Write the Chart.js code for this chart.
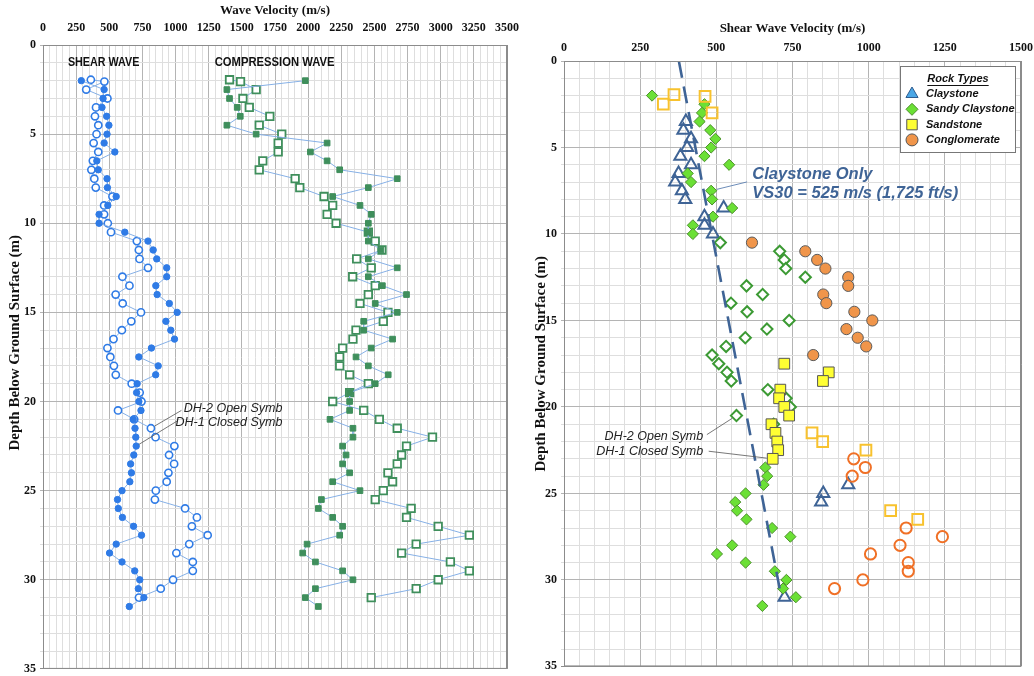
<!DOCTYPE html>
<html>
<head>
<meta charset="utf-8">
<script src="https://cdn.jsdelivr.net/npm/chart.js@4.4.1/dist/chart.umd.min.js"></script>
<style>
  html, body { margin: 0; padding: 0; background: #fff; }
  #wrap { position: relative; width: 1034px; height: 676px; overflow: hidden; }
  #left { position: absolute; left: 0; top: 0; }
  #right { position: absolute; left: 530px; top: 0; }
</style>
</head>
<body>
<div id="wrap">
  <canvas id="left" width="520" height="676"></canvas>
  <canvas id="right" width="504" height="676"></canvas>
</div>
<script>
// depths (m) of the readings, DH-1 and DH-2
const depthDH1 = [2.0, 2.5, 3.0, 3.5, 4.0, 4.5, 5.0, 5.5, 6.0, 6.5, 7.0, 7.5, 8.0, 8.5, 9.0, 9.5, 10.0, 10.5, 11.0, 11.5,
  12.0, 12.5, 13.0, 13.5, 14.0, 14.5, 15.0, 15.5, 16.0, 16.5, 17.0, 17.5, 18.0, 18.5, 19.0, 19.5, 20.0, 20.5, 21.0, 21.5,
  22.0, 22.5, 23.0, 23.5, 24.0, 24.5, 25.0, 25.5, 26.0, 26.5, 27.0, 27.5, 28.0, 28.5, 29.0, 29.5, 30.0, 30.5, 31.0, 31.5];
const depthDH2 = [1.95, 2.05, 2.5, 3.0, 3.5, 4.0, 4.5, 5.0, 5.5, 6.0, 6.5, 7.0, 7.5, 8.0, 8.5, 9.0, 9.5, 10.0, 10.5, 11.0,
  11.5, 12.0, 12.5, 13.0, 13.5, 14.0, 14.5, 15.0, 15.5, 16.0, 16.5, 17.0, 17.5, 18.0, 18.5, 19.0, 19.5, 20.0, 20.5, 21.0,
  21.5, 22.0, 22.5, 23.0, 23.5, 24.0, 24.5, 25.0, 25.5, 26.0, 26.5, 27.0, 27.5, 28.0, 28.5, 29.0, 29.5, 30.0, 30.5, 31.0];

// shear wave velocity (m/s)
const vsDH1 = [289, 461, 453, 445, 480, 497, 483, 461, 542, 406, 417, 483, 486, 552, 489, 423, 423, 617, 792, 831,
  858, 933, 933, 851, 861, 953, 1012, 927, 964, 992, 818, 723, 869, 850, 710, 706, 723, 739, 681, 694,
  700, 703, 685, 661, 667, 655, 596, 562, 568, 599, 683, 743, 552, 502, 596, 692, 730, 719, 761, 651];
const vsDH2 = [361, 463, 326, 486, 400, 392, 417, 404, 382, 417, 376, 365, 387, 398, 524, 461, 461, 489, 513, 708,
  723, 728, 792, 599, 652, 548, 601, 739, 666, 595, 532, 486, 508, 535, 549, 669, 729, 743, 566, 688,
  814, 849, 991, 951, 989, 946, 933, 851, 844, 1072, 1161, 1123, 1242, 1103, 1006, 1130, 1130, 981, 888, 724];

// compression wave velocity (m/s)
const vpDH1 = [1979, 1387, 1407, 1465, 1488, 1387, 1608, 2143, 2017, 2143, 2238, 2672, 2454, 2185, 2391, 2476, 2454, 2454, 2454, 2549,
  2454, 2672, 2454, 2560, 2742, 2506, 2672, 2419, 2419, 2637, 2476, 2361, 2454, 2604, 2506, 2313, 2313, 2313, 2165, 2338,
  2338, 2260, 2286, 2260, 2313, 2185, 2391, 2100, 2077, 2185, 2260, 2238, 1992, 1959, 2055, 2260, 2338, 2055, 1979, 2077];
const vpDH2 = [1407, 1490, 1608, 1508, 1556, 1711, 1631, 1801, 1774, 1774, 1658, 1631, 1902, 1937, 2120, 2185, 2143, 2211, 2454, 2506,
  2557, 2366, 2476, 2336, 2506, 2454, 2391, 2602, 2567, 2361, 2338, 2260, 2238, 2238, 2313, 2454, 2313, 2185, 2419, 2537,
  2672, 2938, 2742, 2705, 2672, 2602, 2637, 2567, 2506, 2777, 2742, 2981, 3216, 2815, 2705, 3073, 3216, 2981, 2815, 2476];

// rock type at each reading: C claystone, SC sandy claystone, SS sandstone, CG conglomerate
const rockDH1 = [
  'SC', 'SC', 'SC', 'SC', 'SC', 'SC', 'SC', 'SC', 'SC', 'SC', 'SC', 'SC', 'SC', 'SC', 'SC', 'SC', 'SC',
  'CG', 'CG', 'CG', 'CG', 'CG', 'CG', 'CG', 'CG', 'CG', 'CG', 'CG', 'CG', 'CG', 'CG',
  'SS', 'SS', 'SS', 'SS', 'SS', 'SS', 'SS', 'SS', 'SS', 'SS', 'SS', 'SS',
  'SC', 'SC', 'SC', 'SC', 'SC', 'SC', 'SC', 'SC', 'SC', 'SC', 'SC', 'SC', 'SC', 'SC', 'SC', 'SC', 'SC'];
const rockDH2 = [
  'SS', 'SS', 'SS', 'SS',
  'C', 'C', 'C', 'C', 'C', 'C', 'C', 'C', 'C', 'C', 'C', 'C', 'C', 'C',
  'SC', 'SC', 'SC', 'SC', 'SC', 'SC', 'SC', 'SC', 'SC', 'SC', 'SC', 'SC', 'SC', 'SC', 'SC', 'SC', 'SC', 'SC', 'SC', 'SC', 'SC', 'SC',
  'SS', 'SS', 'SS', 'CG', 'CG', 'CG', 'C', 'C', 'C', 'SS', 'SS',
  'CG', 'CG', 'CG', 'CG', 'CG', 'CG', 'CG', 'CG', 'C'];

// claystone-only trend line (Vs, depth)
const trendVs = [377, 710];
const trendDepth = [0, 30.7];

const xTicksLeft = { min: 0, max: 3500, minor: 50, major: 250 };
const xTicksRight = { min: 0, max: 1500, minor: 50, major: 250 };
const yTicks = { min: 0, max: 35, minor: 1, major: 5 };

const SERIF = '"Liberation Serif", "DejaVu Serif", serif';
const SANS = '"Liberation Sans", Arial, sans-serif';
const DEPTH_TITLE = 'Depth Below Ground Surface (m)';

const pts = (vs, ds) => vs.map((v, i) => ({ x: v, y: ds[i] }));
const byRock = (vs, ds, rocks, code) =>
  vs.map((v, i) => ({ x: v, y: ds[i], r: rocks[i] })).filter(p => p.r === code);

const gridColor = (major, max) => c => {
  const v = Math.round(c.tick.value);
  if (v === max) return '#8c8c8c';
  return v % major === 0 ? '#b4b4b4' : '#dedede';
};

function xAxis(t, title, height, titlePad, labelPad) {
  return {
    type: 'linear', position: 'top', min: t.min, max: t.max,
    afterFit: s => { s.height = height; s.paddingLeft = 0; s.paddingRight = 0; },
    ticks: {
      stepSize: t.minor, autoSkip: false, maxRotation: 0, padding: labelPad, color: '#111',
      font: { family: SERIF, weight: 'bold', size: 12 },
      callback: v => Math.round(v) % t.major === 0 ? v : ''
    },
    grid: { color: gridColor(t.major, t.max), lineWidth: 1, drawTicks: false },
    border: { color: '#8c8c8c' },
    title: { display: true, text: title, color: '#111', font: { family: SERIF, weight: 'bold', size: 13 },
      padding: { top: titlePad, bottom: 0 } }
  };
}

function yAxis(width, titlePad, showTitle) {
  return {
    type: 'linear', reverse: true, min: yTicks.min, max: yTicks.max,
    afterFit: s => { s.width = width; s.paddingTop = 0; s.paddingBottom = 0; },
    ticks: {
      stepSize: yTicks.minor, autoSkip: false, padding: 4, color: '#111',
      font: { family: SERIF, weight: 'bold', size: 12 },
      callback: v => Math.round(v) % yTicks.major === 0 ? v : ''
    },
    grid: { color: gridColor(yTicks.major, yTicks.max), lineWidth: 1, drawTicks: true, tickLength: 3 },
    border: { color: '#8c8c8c' },
    title: { display: showTitle, text: DEPTH_TITLE, color: '#111',
      font: { family: SERIF, weight: 'bold', size: 15 }, padding: { top: titlePad, bottom: 0 } }
  };
}

// text, leader lines and frame drawn in data units through the chart's scales
const notesPlugin = {
  id: 'notes',
  afterDatasetsDraw(chart, args, opts) {
    const { ctx, chartArea: a, scales } = chart;
    const X = v => scales.x.getPixelForValue(v);
    const Y = d => scales.y.getPixelForValue(d);
    ctx.save();
    ctx.strokeStyle = '#8c8c8c';
    ctx.lineWidth = 1;
    ctx.strokeRect(a.left + 0.5, a.top + 0.5, a.right - a.left - 1, a.bottom - a.top - 1);
    if (opts.sideTitle) {
      // left panel: depth title sits a little above the plot's middle
      ctx.save();
      ctx.translate(opts.sideTitle.x, Y(opts.sideTitle.depth));
      ctx.rotate(-Math.PI / 2);
      ctx.font = 'bold 15px ' + SERIF;
      ctx.fillStyle = '#111';
      ctx.textAlign = 'center';
      ctx.textBaseline = 'middle';
      ctx.fillText(DEPTH_TITLE, 0, 0);
      ctx.restore();
    }
    for (const l of opts.leaders || []) {
      const x1 = X(l.from[0]), y1 = Y(l.from[1]);
      let x2 = X(l.to[0]), y2 = Y(l.to[1]);
      const len = Math.hypot(x2 - x1, y2 - y1);
      x2 -= (x2 - x1) / len * (l.trim || 0);
      y2 -= (y2 - y1) / len * (l.trim || 0);
      ctx.beginPath();
      ctx.strokeStyle = l.color;
      ctx.lineWidth = l.width;
      ctx.moveTo(x1, y1);
      ctx.lineTo(x2, y2);
      ctx.stroke();
    }
    for (const t of opts.texts || []) {
      ctx.save();
      ctx.font = t.font;
      ctx.fillStyle = t.color;
      ctx.textAlign = t.align || 'left';
      ctx.textBaseline = 'middle';
      ctx.translate(X(t.at[0]), Y(t.at[1]));
      if (t.sx) ctx.scale(t.sx, 1);   // condensed caption lettering
      ctx.fillText(t.text, 0, 0);
      ctx.restore();
    }
    ctx.restore();
  }
};

// ---------- left: shear + compression profiles ----------
const LINE = '#86b0e6';
const BLUE = '#2f7be6';
const GREEN = '#3f8f5c';

new Chart(document.getElementById('left'), {
  type: 'scatter',
  data: {
    datasets: [
      { label: 'Vp DH-1', data: pts(vpDH1, depthDH1), showLine: true, borderColor: LINE, borderWidth: 1,
        pointStyle: 'rect', pointRadius: 4, pointBackgroundColor: GREEN, pointBorderColor: GREEN, pointBorderWidth: 1 },
      { label: 'Vp DH-2', data: pts(vpDH2, depthDH2), showLine: true, borderColor: LINE, borderWidth: 1,
        pointStyle: 'rect', pointRadius: 5.3, pointBackgroundColor: '#fff', pointBorderColor: GREEN, pointBorderWidth: 1.8 },
      { label: 'Vs DH-1', data: pts(vsDH1, depthDH1), showLine: true, borderColor: LINE, borderWidth: 1,
        pointStyle: 'circle', pointRadius: 3.2, pointBackgroundColor: BLUE, pointBorderColor: BLUE, pointBorderWidth: 1 },
      { label: 'Vs DH-2', data: pts(vsDH2, depthDH2), showLine: true, borderColor: LINE, borderWidth: 1,
        pointStyle: 'circle', pointRadius: 3.6, pointBackgroundColor: '#fff', pointBorderColor: BLUE, pointBorderWidth: 1.6 }
    ]
  },
  options: {
    responsive: false, animation: false,
    layout: { padding: { left: 0, right: 13, top: 0, bottom: 3 } },
    scales: { x: xAxis(xTicksLeft, 'Wave Velocity (m/s)', 45, 3, 10), y: yAxis(43, 6, false) },
    plugins: {
      legend: { display: false }, tooltip: { enabled: false },
      notes: {
        sideTitle: { x: 15, depth: 16.7 },
        texts: [
          { text: 'SHEAR WAVE', at: [188, 1.0], font: 'bold 12.5px ' + SANS, color: '#111', sx: 0.86 },
          { text: 'COMPRESSION WAVE', at: [1295, 1.0], font: 'bold 12.5px ' + SANS, color: '#111', sx: 0.9 },
          { text: 'DH-2 Open Symb', at: [1806, 20.4], align: 'right', font: 'italic 12.5px ' + SANS, color: '#222' },
          { text: 'DH-1 Closed Symb', at: [1806, 21.2], align: 'right', font: 'italic 12.5px ' + SANS, color: '#222' }
        ],
        leaders: [
          { from: [1044, 20.5], to: [814, 21.5], trim: 4, color: '#555', width: 0.8 },
          { from: [1011, 21.1], to: [703, 22.5], trim: 3, color: '#555', width: 0.8 }
        ]
      }
    }
  },
  plugins: [notesPlugin]
});

// ---------- right: shear wave velocity by rock type ----------
const rockStyles = {
  C:  { name: 'Claystone', style: 'triangle', r: 7, fill: '#4ba7e6', edge: '#2d5b8e',
        dh2: { fill: 'rgba(255,255,255,0)', edge: '#3f6496', w: 2 } },
  SC: { name: 'Sandy Claystone', style: 'rectRot', r: 5.6, fill: '#6be035', edge: '#4b8f2a',
        dh1: { fill: '#6be035', edge: '#4b8f2a', w: 1 }, dh2: { fill: '#fff', edge: '#3c9a34', w: 2 } },
  SS: { name: 'Sandstone', style: 'rect', r: 7.6, fill: '#ffff33', edge: '#555',
        dh1: { fill: '#ffff33', edge: '#555', w: 1 }, dh2: { fill: 'rgba(255,255,255,0)', edge: '#f8c22e', w: 2 } },
  CG: { name: 'Conglomerate', style: 'circle', r: 5.6, fill: '#f0954a', edge: '#555',
        dh1: { fill: '#f0954a', edge: '#5a5a5a', w: 1 }, dh2: { fill: 'rgba(255,255,255,0)', edge: '#f07026', w: 2 } }
};

function rockSet(code, hole) {
  const s = rockStyles[code];
  const h = s[hole];
  const data = hole === 'dh1' ? byRock(vsDH1, depthDH1, rockDH1, code) : byRock(vsDH2, depthDH2, rockDH2, code);
  return { label: s.name + ' ' + hole, data, showLine: false, pointStyle: s.style, pointRadius: s.r,
    pointBackgroundColor: h.fill, pointBorderColor: h.edge, pointBorderWidth: h.w };
}

const legendPlugin = {
  id: 'rockLegend',
  afterDraw(chart) {
    const { ctx, chartArea: a } = chart;
    const left = a.right - 121, top = a.top + 5, w = 115, h = 86;
    ctx.save();
    ctx.fillStyle = '#fff';
    ctx.fillRect(left, top, w, h);
    ctx.strokeStyle = '#777';
    ctx.lineWidth = 1;
    ctx.strokeRect(left + 0.5, top + 0.5, w, h);
    ctx.fillStyle = '#111';
    ctx.font = 'italic bold 11px ' + SANS;
    ctx.textAlign = 'center';
    ctx.textBaseline = 'middle';
    ctx.fillText('Rock Types', left + 58, top + 13);
    const tw = ctx.measureText('Rock Types').width;
    ctx.fillRect(left + 58 - tw / 2, top + 19, tw, 1);
    ctx.textAlign = 'left';
    ['C', 'SC', 'SS', 'CG'].forEach((code, i) => {
      const s = rockStyles[code];
      const y = top + 28 + i * 15.3;
      ctx.fillStyle = s.fill;
      ctx.strokeStyle = s.edge;
      ctx.lineWidth = 1;
      const r = code === 'SS' ? 7.4 : code === 'C' ? 7 : 6;
      Chart.helpers.drawPoint(ctx, { pointStyle: s.style, radius: r, rotation: 0, borderWidth: 1 }, left + 12, y);
      ctx.fillStyle = '#111';
      ctx.fillText(s.name, left + 26, y);
    });
    ctx.restore();
  }
};

new Chart(document.getElementById('right'), {
  type: 'scatter',
  data: {
    datasets: [
      { label: 'trend', data: pts(trendVs, trendDepth), showLine: true, borderColor: '#3f6496', borderWidth: 2.6,
        borderDash: [17, 9], pointRadius: 0 },
      rockSet('CG', 'dh1'), rockSet('CG', 'dh2'),
      rockSet('SS', 'dh1'), rockSet('SS', 'dh2'),
      rockSet('SC', 'dh1'), rockSet('SC', 'dh2'),
      rockSet('C', 'dh2')
    ]
  },
  options: {
    responsive: false, animation: false,
    layout: { padding: { left: 0, right: 13, top: 0, bottom: 4 } },
    scales: { x: xAxis(xTicksRight, 'Shear Wave Velocity (m/s)', 61, 21, 6), y: yAxis(34, 2, true) },
    plugins: {
      legend: { display: false }, tooltip: { enabled: false },
      notes: {
        texts: [
          { text: 'Claystone Only', at: [618, 6.57], font: 'italic bold 16.5px ' + SANS, color: '#3f6496' },
          { text: 'VS30 = 525 m/s (1,725 ft/s)', at: [618, 7.66], font: 'italic bold 16.5px ' + SANS, color: '#3f6496' },
          { text: 'DH-2 Open Symb', at: [457, 21.7], align: 'right', font: 'italic 12.5px ' + SANS, color: '#222' },
          { text: 'DH-1 Closed Symb', at: [457, 22.56], align: 'right', font: 'italic 12.5px ' + SANS, color: '#222' }
        ],
        leaders: [
          { from: [601, 6.99], to: [483, 7.5], trim: 6, color: '#5b7fb0', width: 0.9 },
          { from: [469, 21.6], to: [566, 20.5], trim: 5, color: '#555', width: 0.8 },
          { from: [475, 22.56], to: [685, 23.0], trim: 6, color: '#555', width: 0.8 }
        ]
      }
    }
  },
  plugins: [notesPlugin, legendPlugin]
});
</script>
</body>
</html>
